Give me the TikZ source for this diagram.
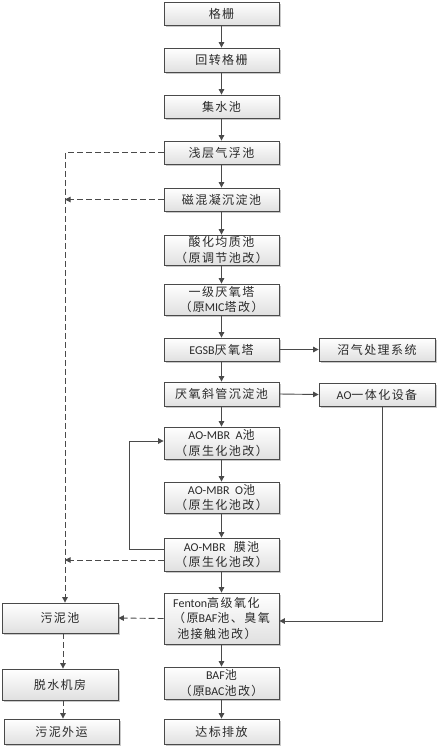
\documentclass[tikz,border=0pt]{standalone}
\usepackage{fontspec}
\setmainfont{Noto Sans CJK SC}[LetterSpace=12]
\newfontfamily\lat{Carlito}
\usetikzlibrary{arrows.meta,shadows,calc}
\definecolor{ln}{HTML}{4A4A4A}
\definecolor{tx}{HTML}{2A2A2A}
\begin{document}
\begin{tikzpicture}[x=1pt,y=-1pt,
  box/.style={draw=ln, line width=0.8pt, top color=white, bottom color=black!12,
    drop shadow={shadow xshift=1.5pt, shadow yshift=-1.5pt, fill=black!35, opacity=0.6},
    minimum width=115pt, inner sep=1pt, font=\fontsize{12}{15.5}\selectfont, text=tx, align=center},
  arr/.style={draw=ln, line width=0.9pt, -{Triangle[length=5.5pt,width=5.5pt]}},
  darr/.style={arr, dash pattern=on 6pt off 3pt},
  every node/.style={anchor=center}]
\useasboundingbox (0,0) rectangle (440,748);
\fill[white] (0,0) rectangle (440,748);
% main column
\node[box, minimum height=23pt] (n1) at (221.5,13.5) {格栅};
\node[box, minimum height=24pt] (n2) at (221.5,60) {回转格栅};
\node[box, minimum height=23pt] (n3) at (221.5,106.5) {集水池};
\node[box, minimum height=23pt] (n4) at (221.5,152.5) {浅层气浮池};
\node[box, minimum height=23pt] (n5) at (221.5,199.5) {磁混凝沉淀池};
\node[box, minimum height=30pt] (n6) at (221.5,250) {酸化均质池\\（原调节池改）};
\node[box, minimum height=31pt] (n7) at (221.5,299.5) {一级厌氧塔\\（原{\lat MIC}塔改）};
\node[box, minimum height=23pt] (n8) at (221.5,349.5) {{\lat EGSB}厌氧塔};
\node[box, minimum height=24pt] (n9) at (221.5,394) {厌氧斜管沉淀池};
\node[box, minimum height=32pt] (n10) at (221.5,443) {{\lat AO-MBR\ \ A}池\\（原生化池改）};
\node[box, minimum height=31pt] (n11) at (221.5,497.5) {{\lat AO-MBR\ \ O}池\\（原生化池改）};
\node[box, minimum height=33pt] (n12) at (221.5,554.5) {{\lat AO-MBR}\ \ 膜池\\（原生化池改）};
\node[box, minimum height=51pt, align=left] (n13) at (221.5,618.5) {{\lat Fenton}高级氧化\\（原{\lat BAF}池、臭氧\\\ 池接触池改）};
\node[box, minimum height=32pt] (n14) at (221.5,683) {{\lat BAF}池\\（原{\lat BAC}池改）};
\node[box, minimum height=25pt] (n15) at (221.5,731.5) {达标排放};
% right column
\node[box, minimum width=116pt, minimum height=23pt] (r1) at (377,349.5) {沼气处理系统};
\node[box, minimum width=116pt, minimum height=23pt] (r2) at (377,394.5) {{\lat AO}一体化设备};
% left column
\node[box, minimum width=116pt, minimum height=30pt] (l1) at (60,618) {污泥池};
\node[box, minimum width=116pt, minimum height=31pt] (l2) at (60,684.5) {脱水机房};
\node[box, minimum width=115pt, minimum height=25pt] (l3) at (61.5,731.5) {污泥外运};
% helper coordinates
\coordinate (ra) at ([yshift=5.5pt]n12.west);
\coordinate (da) at ([yshift=-5.5pt]n12.west);
\coordinate (ain) at ([yshift=2pt]n10.west);
\coordinate (fin) at ([yshift=-2.5pt]n13.east);
\coordinate (aos) at ([xshift=5pt]r2.south);
\coordinate (wtop) at ([xshift=5pt]l1.north);
\coordinate (rcx) at (129,0);
% main arrows
\foreach \a/\b in {n1/n2,n2/n3,n3/n4,n4/n5,n5/n6,n6/n7,n7/n8,n8/n9,n9/n10,n10/n11,n11/n12,n12/n13,n13/n14,n14/n15}
  \draw[arr] (\a.south) -- (\b.north);
\draw[arr] (n8.east) -- (r1.west);
\draw[arr] (n9.east) -- (r2.west);
\draw[arr] (aos) |- (fin);
% recycle
\draw[arr] (ra) -| (rcx |- ain) -- (ain);
% sludge dashed
\draw[darr] (n4.west) -| (wtop);
\draw[darr] (n5.west) -- (wtop |- n5.west);
\draw[darr] (da) -- (wtop |- da);
\draw[darr] (n13.west) -- (l1.east);
\draw[darr] ([xshift=3pt]l1.south) -- ([xshift=3pt]l2.north);
\draw[darr] ([xshift=3pt]l2.south) -- ([xshift=1.5pt]l3.north);
\end{tikzpicture}
\end{document}
